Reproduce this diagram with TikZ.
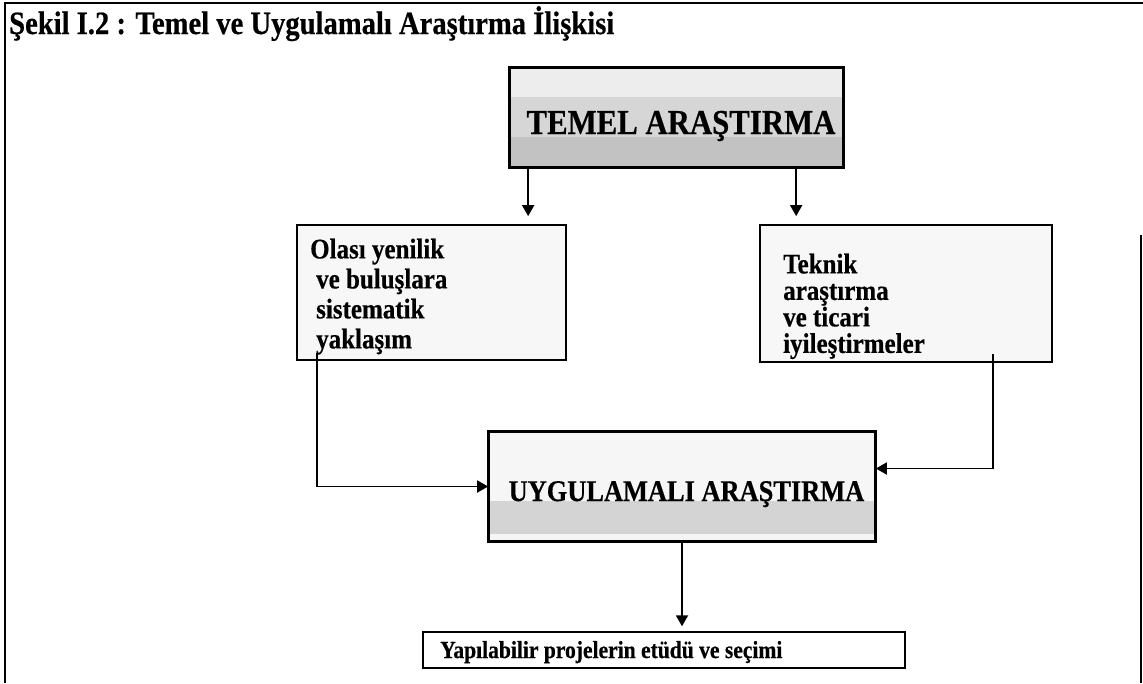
\documentclass[tikz,border=0pt]{standalone}
\usepackage{fontspec}
\setmainfont{Liberation Serif}
\newfontfamily\cond{Liberation Serif}[FakeStretch=0.88,BoldFeatures={FakeBold=0.5}]
\usetikzlibrary{arrows.meta,calc}
\begin{document}
\begin{tikzpicture}[x=1pt,y=-1pt,
  box/.style={draw,line width=1.7pt,inner sep=0pt},
  arr/.style={line width=1.8pt,-{Triangle[length=11pt,width=12pt]}},
  frameline/.style={line width=2pt},
  band/.style 2 args={path picture={
      \fill[#1] ($(path picture bounding box.north west)+(0,#2)$)
        rectangle (path picture bounding box.south east);}},
  boxtext/.style={anchor=north west,align=left,inner sep=0pt}]
\useasboundingbox (0,0) rectangle (1143,683);

% page frame
\draw[frameline] (5,683) -- (5,3) -- (1143,3);
\draw[line width=1.4pt] (1141,235) -- (1141,683);

% caption
\node[anchor=base west,inner sep=0pt,font=\cond\bfseries\fontsize{32.5}{36}\selectfont]
  (title) at (9,34) {Şekil I.2 : Temel ve Uygulamalı Araştırma İlişkisi};

% basic research
\node[box,fill=gray!14,minimum width=333pt,minimum height=99pt,band={gray!32}{29}]
  (temel) at (676.5,117.5) {};
\fill[gray!48] (511,137) rectangle (842,166);
\draw[box,fill=none] (temel.south west) rectangle (temel.north east);
\node[anchor=base,inner sep=0pt,font=\cond\bfseries\fontsize{35}{38}\selectfont]
  (temeltxt) at (681,134) {TEMEL ARAŞTIRMA};

% the two intermediate boxes
\node[box,fill=gray!6,minimum width=269pt,minimum height=135pt]
  (olasi) at (431.5,292.5) {};
\node[boxtext,font=\cond\bfseries\fontsize{28.4}{30}\selectfont] (olasitxt) at (310,238.5)
  {Olası yenilik\\\hspace*{6pt}ve buluşlara\\\hspace*{6pt}sistematik\\\hspace*{6pt}yaklaşım};

\node[box,fill=gray!6,minimum width=292pt,minimum height=137pt]
  (teknik) at (906,293.5) {};
\node[boxtext,font=\cond\bfseries\fontsize{28.4}{26.5}\selectfont] (tekniktxt) at (783,253.5)
  {Teknik\\araştırma\\ve ticari\\iyileştirmeler};

% applied research
\node[box,fill=gray!7,minimum width=386pt,minimum height=109pt,band={gray!34}{69}]
  (uyg) at (682,486.5) {};
\fill[gray!8] (490,534) rectangle (874,540);
\draw[box,fill=none] (uyg.south west) rectangle (uyg.north east);
\node[anchor=base,inner sep=0pt,font=\cond\bfseries\fontsize{30}{33}\selectfont]
  (uygtxt) at (686.5,501) {UYGULAMALI ARAŞTIRMA};

% feasible projects
\node[draw,line width=1.4pt,minimum width=482pt,minimum height=36pt,inner sep=0pt]
  (yap) at (664,650) {};
\node[anchor=base west,inner sep=0pt,font=\cond\bfseries\fontsize{24.5}{27}\selectfont]
  (yaptxt) at (440,658) {Yapılabilir projelerin etüdü ve seçimi};

% connectors
\draw[arr,shorten >=8pt] ($(temel.south west)+(19,0)$) coordinate (t1) -- (t1 |- olasi.north);
\draw[arr,shorten >=8pt] ($(temel.south west)+(287,0)$) coordinate (t2) -- (t2 |- teknik.north);
\draw[arr] ($(olasi.south west)+(21,-8)$) |- (uyg.west);
\draw[arr] ($(teknik.south east)+(-60,-9)$) |- ($(uyg.east)+(0,-18)$);
\draw[arr,shorten >=5pt] (uyg.south) -- (uyg.south |- yap.north);
\end{tikzpicture}
\end{document}
